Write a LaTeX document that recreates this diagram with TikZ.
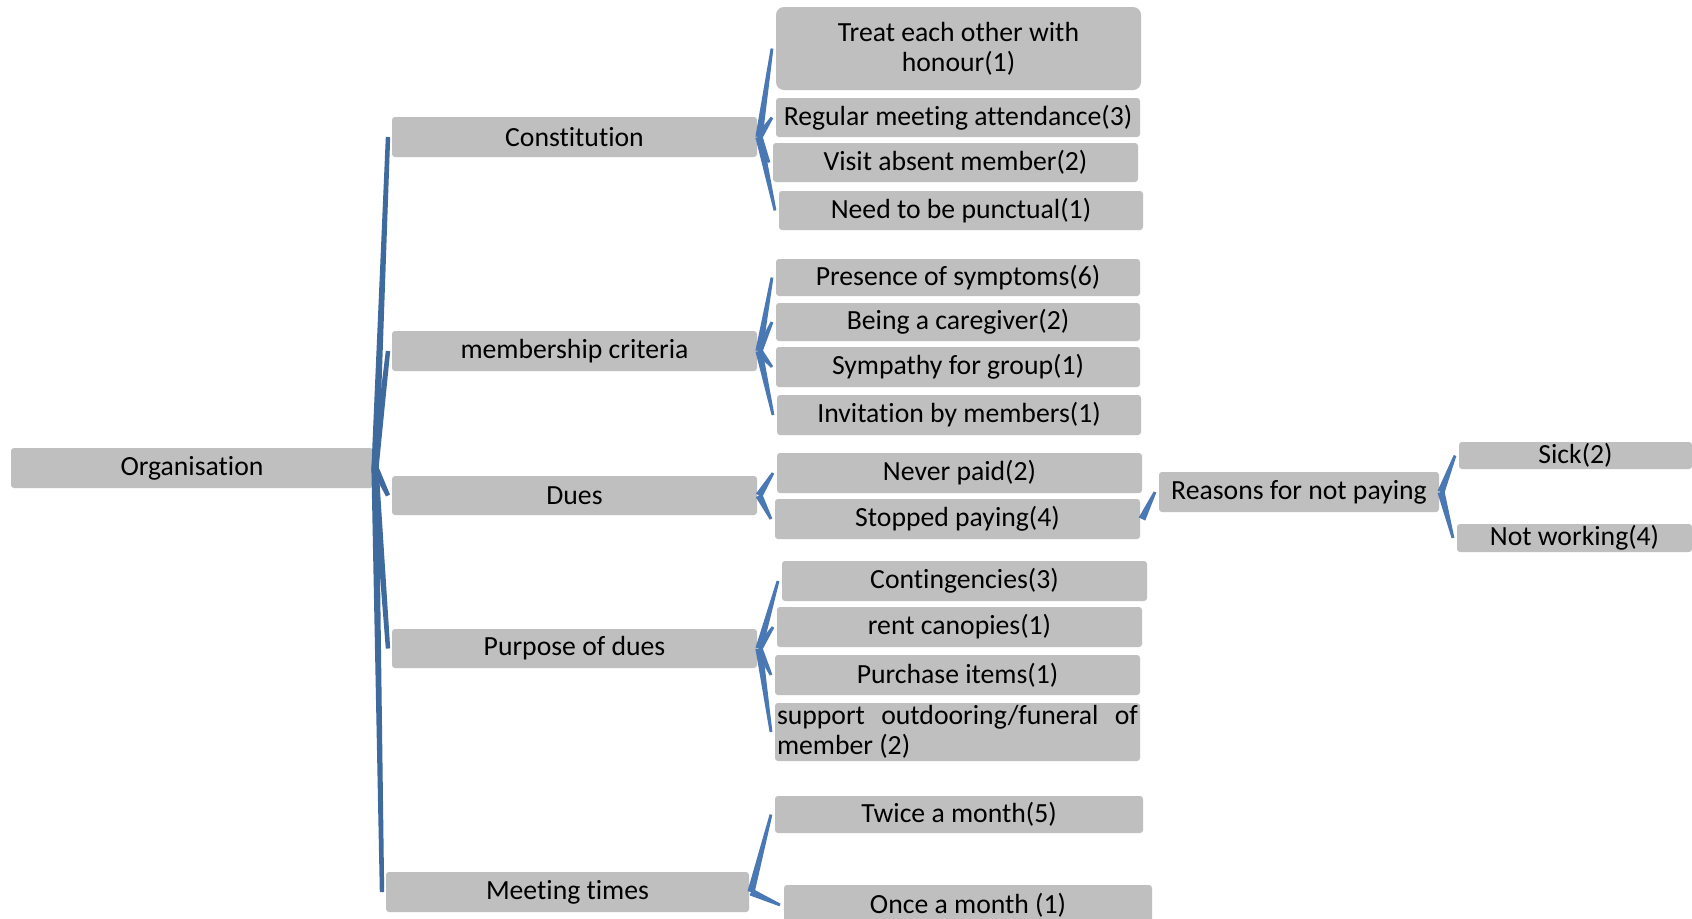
\documentclass[tikz,border=0pt]{standalone}
\usepackage{fontspec}
\setmainfont{Carlito}[Ligatures=NoCommon]
\usetikzlibrary{calc}
\definecolor{boxgray}{HTML}{BFBFBF}
\definecolor{connA}{HTML}{3F6A9E}
\definecolor{connB}{HTML}{4A78B5}
\newcommand\diafs{\fontsize{13.85}{15}\selectfont}
\tikzset{
  box/.style={fill=boxgray, rounded corners=1.5pt, inner sep=0pt, outer sep=0pt, font=\diafs, text=black, anchor=center},
  conn/.style={fill=connB, draw=none},
}
% \bx[opts]{name}{x1}{y1}{x2}{y2}{text}
\newcommand\bx[7][]{%
  \pgfmathsetmacro\bxw{(#5-#3)*0.5}%
  \pgfmathsetmacro\bxh{(#6-#4)*0.5}%
  \node[box,minimum width=\bxw pt,minimum height=\bxh pt,#1] (#2) at ({(#3+#5)/2},{(#4+#6)/2}) {#7};}
% \link[opts]{parent}{child}{apex half width}{end half width}
\newcommand\link[5][]{%
  \coordinate (#2-r-#3) at ([xshift=1pt]#2.east);
  \coordinate (#3-l) at ([xshift=-2pt]#3.west);
  \fill[conn,#1] ($(#2-r-#3)!#4!90:(#3-l)$) -- ($(#3-l)!#5!-90:(#2-r-#3)$) -- ($(#3-l)!#5!90:(#2-r-#3)$) -- ($(#2-r-#3)!#4!-90:(#3-l)$) -- cycle;}
\begin{document}
\begin{tikzpicture}[x=0.5pt,y=-0.5pt]
\clip (0,0) rectangle (1692,918);
\fill[white] (0,0) rectangle (1692,918);
% level 0
\bx{org}{11}{448}{373}{488}{Organisation}
% level 1
\bx{con}{392}{117}{757}{157}{Constitution}
\bx{mem}{392}{331}{757}{371}{membership criteria}
\bx{dues}{392}{476}{757}{515}{Dues}
\bx{pur}{392}{629}{757}{668}{Purpose of dues}
\bx{meet}{386}{872}{749}{912}{Meeting times}
% constitution children
\bx[rounded corners=4pt,align=center]{treat}{776}{7}{1141}{90}{Treat each other with\\honour(1)}
\bx{reg}{776}{98}{1140}{137}{Regular meeting attendance(3)}
\bx{visit}{773}{143}{1138}{182}{Visit absent member(2)}
\bx{need}{779}{191}{1143}{230}{Need to be punctual(1)}
% membership children
\bx{pres}{776}{259}{1140}{296}{Presence of symptoms(6)}
\bx{care}{776}{303}{1140}{341}{Being a caregiver(2)}
\bx{symp}{776}{347}{1140}{387}{Sympathy for group(1)}
\bx{inv}{777}{395}{1141}{435}{Invitation by members(1)}
% dues children
\bx{never}{777}{453}{1142}{493}{Never paid(2)}
\bx{stop}{775}{499}{1140}{539}{Stopped paying(4)}
\bx{reas}{1159}{472}{1439}{512}{Reasons for not paying}
\bx{sick}{1459}{442}{1692}{469}{Sick(2)}
\bx{notw}{1457}{524}{1692}{552}{Not working(4)}
% purpose children
\bx{cont}{782}{561}{1147}{601}{Contingencies(3)}
\bx{rent}{777}{607}{1142}{647}{rent canopies(1)}
\bx{purch}{775}{655}{1140}{695}{Purchase items(1)}
\bx[text width=180.5pt,align=justify]{supp}{775}{703}{1140}{761}{support outdooring/funeral of\linebreak member (2)}
% meeting children
\bx{twice}{775}{796}{1143}{833}{Twice a month(5)}
\bx{once}{784}{885}{1152}{925}{Once a month (1)}
% connectors level 0 -> 1
\foreach \c in {con,mem,dues,pur,meet}{\link[fill=connA]{org}{\c}{1.8pt}{1.1pt}}
% level 1 -> 2 and deeper
\foreach \c in {treat,reg,visit,need}{\link{con}{\c}{1.8pt}{0.7pt}}
\foreach \c in {pres,care,symp,inv}{\link{mem}{\c}{1.8pt}{0.7pt}}
\foreach \c in {never,stop}{\link{dues}{\c}{1.8pt}{0.7pt}}
\link{stop}{reas}{1.8pt}{0.7pt}
\foreach \c in {sick,notw}{\link{reas}{\c}{1.8pt}{0.7pt}}
\foreach \c in {cont,rent,purch,supp}{\link{pur}{\c}{1.8pt}{0.7pt}}
\foreach \c in {twice,once}{\link{meet}{\c}{1.8pt}{0.7pt}}
\end{tikzpicture}
\end{document}
